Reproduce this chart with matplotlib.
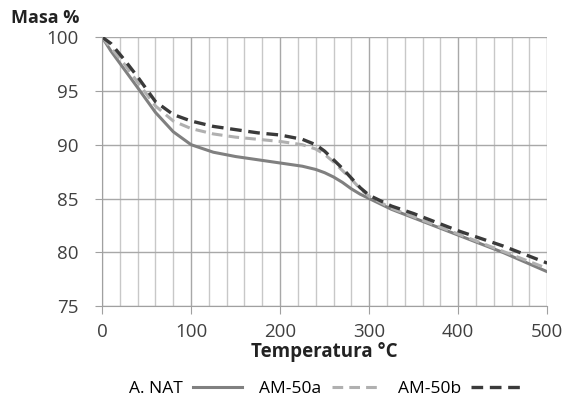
import matplotlib.pyplot as plt
from matplotlib.ticker import MultipleLocator

temperature = [0, 10, 25, 40, 60, 80, 100, 125, 150, 175, 200, 225, 240, 250,
               260, 270, 280, 290, 300, 325, 350, 400, 450, 500]
a_nat = [100, 98.7, 97.0, 95.3, 93.0, 91.2, 90.0, 89.3, 88.9, 88.6, 88.3, 88.0,
         87.7, 87.4, 87.0, 86.5, 85.9, 85.4, 85.0, 84.0, 83.2, 81.6, 80.0, 78.2]
am_50a = [100, 99.0, 97.5, 95.8, 93.6, 92.2, 91.5, 91.0, 90.7, 90.5, 90.3, 90.0,
          89.6, 89.1, 88.4, 87.6, 86.8, 85.9, 85.2, 84.1, 83.3, 81.7, 80.1, 78.5]
am_50b = [100, 99.4, 97.9, 96.3, 94.0, 92.8, 92.2, 91.7, 91.4, 91.1, 90.9, 90.5,
          90.0, 89.4, 88.6, 87.8, 86.9, 86.0, 85.3, 84.3, 83.6, 82.0, 80.6, 79.0]

plt.rcParams['font.family'] = ['Open Sans', 'DejaVu Sans']

fig = plt.figure(figsize=(5.67, 4.12), dpi=100)
ax = fig.add_axes([0.18, 0.257, 0.785, 0.653])

ax.plot(temperature, a_nat, color='#808080', lw=2.2, label='A. NAT')
ax.plot(temperature, am_50a, color='#b0b0b0', lw=2.2, ls=(0, (3.5, 2)), label='AM-50a')
ax.plot(temperature, am_50b, color='#3a3a3a', lw=2.4, ls=(0, (3.5, 2)), label='AM-50b')

ax.set_xlim(0, 500)
ax.set_ylim(75, 100)
ax.xaxis.set_major_locator(MultipleLocator(100))
ax.xaxis.set_minor_locator(MultipleLocator(20))
ax.yaxis.set_major_locator(MultipleLocator(5))
ax.grid(which='major', color='#a8a8a8', lw=1)
ax.grid(which='minor', axis='x', color='#c8c8c8', lw=1)
ax.set_axisbelow(True)
for s in ['top', 'right']:
    ax.spines[s].set_visible(False)
for s in ['left', 'bottom']:
    ax.spines[s].set_color('#a0a0a0')
ax.tick_params(which='major', length=6, color='#a0a0a0', labelsize=13.5,
               labelcolor='#404040', pad=6)
ax.tick_params(which='minor', length=0)
ax.tick_params(axis='y', length=5, pad=12)

fig.text(0.02, 0.945, 'Masa %', fontsize=13, fontweight='bold', color='#222222')
ax.set_xlabel('Temperatura °C', fontsize=13.5, fontweight='bold', color='#222222',
              labelpad=1)

ax.legend(loc='upper center', bbox_to_anchor=(0.5, -0.22), ncol=3, frameon=False,
          markerfirst=False, fontsize=12.5, handlelength=2.8, columnspacing=1.0,
          handletextpad=0.6)

plt.savefig('out.png', dpi=100)
plt.close()
